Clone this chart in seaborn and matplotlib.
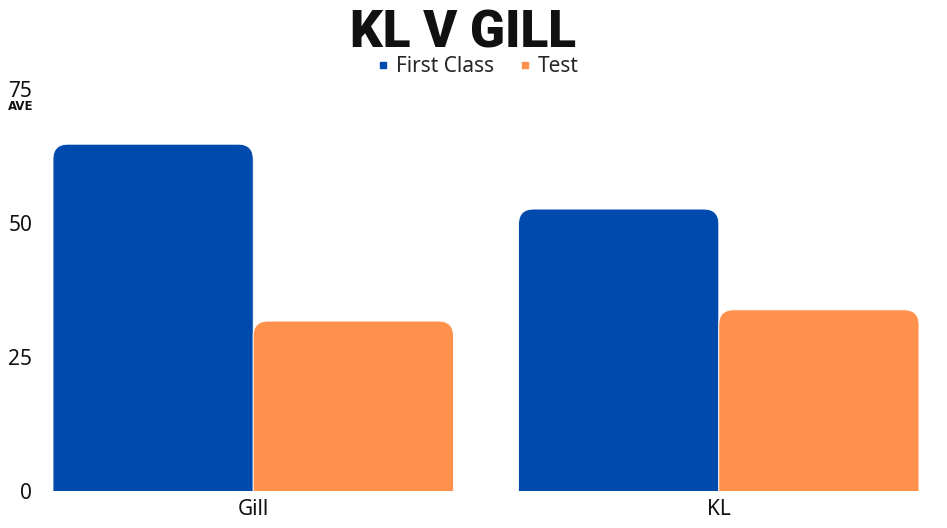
import matplotlib
matplotlib.use("Agg")
import matplotlib.pyplot as plt
import seaborn as sns
import pandas as pd
from matplotlib.patches import FancyBboxPatch
from matplotlib.lines import Line2D

players = ["Gill", "KL"]
first_class = [64.7, 52.6]
test = [31.7, 33.8]
series_names = ["First Class", "Test"]
colors = {"First Class": "#004aad", "Test": "#ff914d"}
y_ticks = [0, 25, 50, 75]

df = pd.DataFrame({
    "player": players * 2,
    "format": [series_names[0]] * 2 + [series_names[1]] * 2,
    "avg": first_class + test,
})

sns.set_theme(style="white")
plt.rcParams["font.family"] = ["Noto Sans", "DejaVu Sans"]

W, H = 947, 528
fig = plt.figure(figsize=(W / 100, H / 100), dpi=100)
left, right = 53 / W, 919 / W
bottom, top = 37 / H, (H - 89) / H
ax = fig.add_axes([left, bottom, right - left, top - bottom])

bw = 0.86
sns.barplot(data=df, x="player", y="avg", hue="format", order=players,
            hue_order=series_names, palette=colors, width=bw, gap=0,
            legend=False, ax=ax, errorbar=None, saturation=1)

xlo, xhi = -bw / 2, 1 + bw / 2
ax.set_xlim(xlo, xhi)
ax.set_ylim(0, 75)

px_x = (right - left) * W / (xhi - xlo)
px_y = (top - bottom) * H / 75
aspect = px_x / px_y
r = 15 / px_x

for p in list(ax.patches):
    x, w, h = p.get_x(), p.get_width(), p.get_height()
    fc = p.get_facecolor()
    p.set_visible(False)
    if h <= 0:
        continue
    ext = r * aspect * 1.5
    fp = FancyBboxPatch((x, -ext), w, h + ext,
                        boxstyle=f"round,pad=0,rounding_size={r}",
                        mutation_aspect=aspect, fc=fc, ec="white", lw=0.6)
    ax.add_patch(fp)

for s in ax.spines.values():
    s.set_visible(False)
ax.set_xlabel("")
ax.set_ylabel("")
ax.set_yticks(y_ticks)
ax.set_yticklabels([str(t) for t in y_ticks])
ax.tick_params(axis="y", length=0, pad=15, labelsize=15, labelcolor="#111111")
ax.tick_params(axis="x", length=0, pad=6, labelsize=15, labelcolor="#111111")
ax.grid(False)

fig.text(463 / W, 1 - 47 / H, "KL V GILL", ha="center", va="baseline",
         fontsize=37, fontweight="black",
         family=["Roboto", "DejaVu Sans"], color="#111111")

fig.text(21 / W, 1 - 107 / H, "AVE", ha="center", va="center",
         fontsize=8.5, fontweight="bold",
         family=["DejaVu Sans"], color="#111111")

handles = [Line2D([], [], marker="s", ls="none", markersize=4.5,
                  color=colors[n]) for n in series_names]
fig.legend(handles, series_names, loc="center", bbox_to_anchor=(477 / W, 1 - 67 / H),
           ncol=2, frameon=False, fontsize=15, handletextpad=0.2,
           columnspacing=1.1, handlelength=0.8, borderpad=0)

fig.savefig("out.png", dpi=100, facecolor="white")
